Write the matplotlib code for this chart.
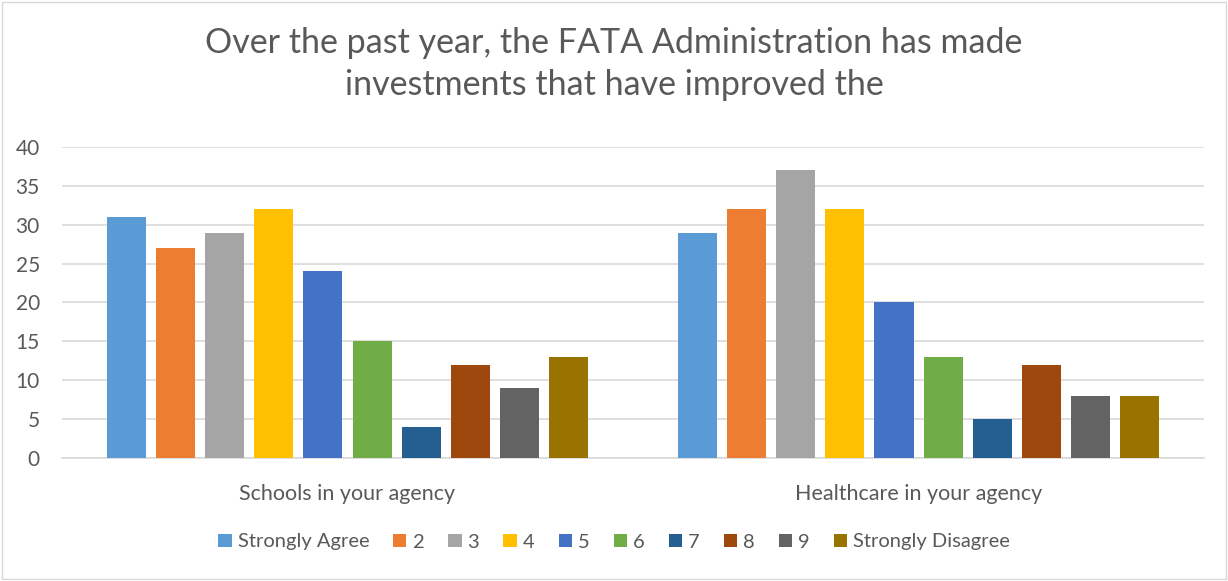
import numpy as np
import matplotlib.pyplot as plt
from matplotlib.patches import Rectangle

# data
categories = ['Schools in your agency', 'Healthcare in your agency']
series = ['Strongly Agree', '2', '3', '4', '5', '6', '7', '8', '9', 'Strongly Disagree']
schools = [31, 27, 29, 32, 24, 15, 4, 12, 9, 13]
healthcare = [29, 32, 37, 32, 20, 13, 5, 12, 8, 8]
colors = ['#5B9BD5', '#ED7D31', '#A5A5A5', '#FFC000', '#4472C4',
          '#70AD47', '#255E91', '#9E480E', '#636363', '#997300']

plt.rcParams['font.family'] = ['Lato', 'DejaVu Sans']
txt = '#595959'

fig = plt.figure(figsize=(12.28, 5.81), dpi=100)
ax = fig.add_axes([0.0505, 0.2117, 0.9300, 0.5353])

x = np.arange(len(categories))
step = 0.086
width = 0.0684
for i, name in enumerate(series):
    vals = [schools[i], healthcare[i]]
    ax.bar(x + (i - 4.5) * step, vals, width, color=colors[i], label=name, zorder=3)

ax.set_xlim(-0.5, 1.5)
ax.set_ylim(0, 40)
ax.set_yticks(range(0, 41, 5))
ax.yaxis.grid(True, color='#D9D9D9', linewidth=1.2, zorder=0)
ax.set_xticks(x)
ax.set_xticklabels(categories, fontsize=15.5)
ax.tick_params(axis='both', length=0, labelcolor=txt)
ax.tick_params(axis='y', labelsize=15, pad=16)
ax.tick_params(axis='x', pad=19)
for s in ['top', 'right', 'left']:
    ax.spines[s].set_visible(False)
ax.spines['bottom'].set_color('#D9D9D9')
ax.spines['bottom'].set_linewidth(1.2)

fig.text(0.5, 1 - 27 / 581,
         'Over the past year, the FATA Administration has made\ninvestments that have improved the',
         ha='center', va='top', fontsize=24.5, color=txt, linespacing=1.4)

ax.legend(loc='center', bbox_to_anchor=(0.5, 1 - 542 / 581), bbox_transform=fig.transFigure,
          ncol=10, frameon=False, fontsize=14.5, labelcolor=txt, handlelength=0.65,
          handleheight=0.65, handletextpad=0.3, columnspacing=1.2)

fig.patches.append(Rectangle((0.002, 0.003), 0.996, 0.994, transform=fig.transFigure,
                             fill=False, edgecolor='#D9D9D9', linewidth=1))

fig.savefig('out.png', dpi=100)
